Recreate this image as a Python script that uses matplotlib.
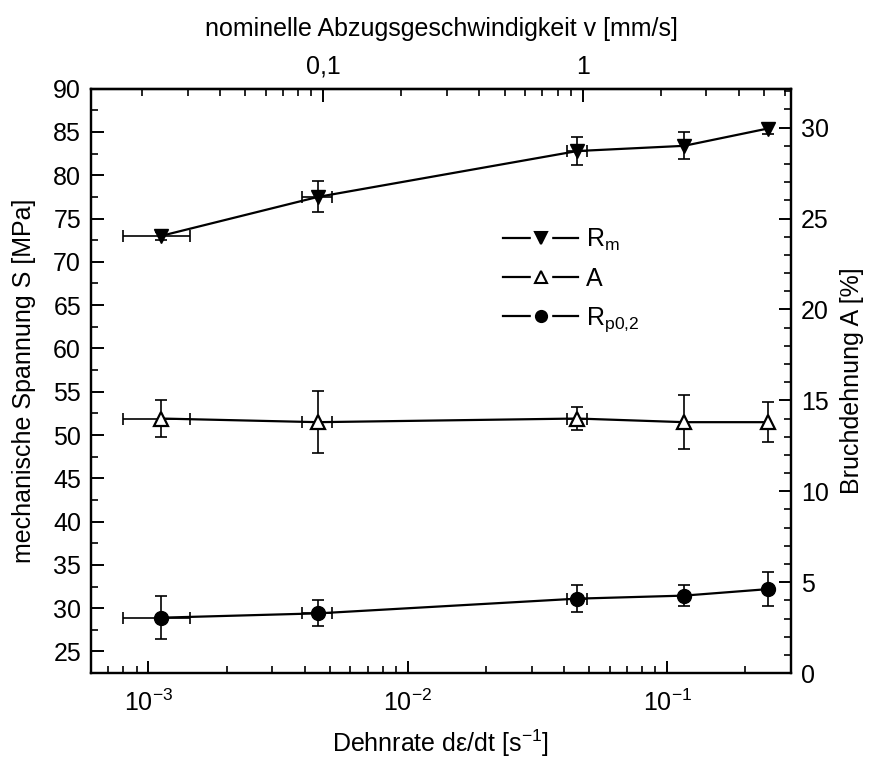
import math
import matplotlib
matplotlib.use('Agg')
import matplotlib.pyplot as plt
from matplotlib.lines import Line2D
from matplotlib.legend_handler import HandlerTuple
from matplotlib.ticker import LogLocator, FuncFormatter, MultipleLocator, NullFormatter, FixedLocator

plt.rcParams['font.family'] = ['Liberation Sans', 'DejaVu Sans']
plt.rcParams['mathtext.fontset'] = 'custom'
plt.rcParams['mathtext.rm'] = 'Liberation Sans'
plt.rcParams['mathtext.it'] = 'Liberation Sans:italic'

## data
rate = [1.12e-3, 4.5e-3, 4.5e-2, 0.116, 0.244]
rate_err = [3.2e-4, 6e-4, 4e-3, 0, 0]

rm = [73.0, 77.5, 82.8, 83.4, 85.4]
rm_err = [0.5, 1.8, 1.6, 1.55, 0.6]

a = [14.0, 13.8, 14.0, 13.8, 13.8]
a_err = [1.0, 1.7, 0.65, 1.5, 1.1]

rp = [28.9, 29.4, 31.1, 31.45, 32.2]
rp_err = [2.5, 1.5, 1.6, 1.2, 1.95]

top_ticks = [0.1, 1]
gauge_len = 21.2   # mm, v = rate * L

fig = plt.figure(figsize=(8.82, 7.58), dpi=100)
ax = fig.add_axes([0.103, 0.112, 0.794, 0.771])
ax2 = ax.twinx()

fs = 18
ebkw = dict(fmt='none', ecolor='black', elinewidth=1.2, capsize=4, capthick=1.2)

## R_m
ax.errorbar(rate, rm, yerr=rm_err, xerr=rate_err, **ebkw)
ax.plot(rate, rm, color='black', lw=1.6, marker='v', ms=10, mfc='black', mec='black')
## R_p0,2
ax.errorbar(rate, rp, yerr=rp_err, xerr=rate_err, **ebkw)
ax.plot(rate, rp, color='black', lw=1.6, marker='o', ms=10, mfc='black', mec='black')
## A
ax2.errorbar(rate, a, yerr=a_err, xerr=rate_err, **ebkw)
ax2.plot(rate, a, color='black', lw=1.6, marker='^', ms=10, mfc='white', mec='black', mew=1.6)

ax.set_xscale('log')
ax.set_xlim(6e-4, 0.3)
ax.set_ylim(22.5, 90)
ax2.set_ylim(0, 32.14)

ax.yaxis.set_major_locator(MultipleLocator(5))
ax.yaxis.set_minor_locator(MultipleLocator(2.5))
ax2.yaxis.set_major_locator(MultipleLocator(5))
ax2.yaxis.set_minor_locator(MultipleLocator(1))

def sci(x, pos):
    e = int(round(math.log10(x)))
    return '10$^{\\mathrm{-%d}}$' % (-e) if e < 0 else '10$^{%d}$' % e

ax.xaxis.set_major_locator(LogLocator(base=10))
ax.xaxis.set_major_formatter(FuncFormatter(sci))
ax.xaxis.set_minor_locator(LogLocator(base=10, subs=range(2, 10)))
ax.xaxis.set_minor_formatter(NullFormatter())

top = ax.secondary_xaxis('top', functions=(lambda x: x * gauge_len, lambda v: v / gauge_len))
top.xaxis.set_major_locator(FixedLocator(top_ticks))
top.xaxis.set_major_formatter(FuncFormatter(lambda v, p: ('%g' % v).replace('.', ',')))
top.xaxis.set_minor_locator(LogLocator(base=10, subs=range(2, 10)))
top.xaxis.set_minor_formatter(NullFormatter())

for axis in (ax, ax2, top):
    axis.tick_params(which='major', direction='in', length=9, width=1.4, labelsize=fs, pad=7)
    axis.tick_params(which='minor', direction='in', length=5, width=1.2)
ax.tick_params(axis='x', which='major', pad=12)
ax.tick_params(top=False, right=False, which='both')
ax2.tick_params(axis='x', top=False, bottom=False, which='both')

for sp in ax.spines.values():
    sp.set_linewidth(1.6)
for sp in ax2.spines.values():
    sp.set_linewidth(1.6)
top.spines['top'].set_linewidth(1.6)

ax.set_xlabel('Dehnrate d\u03b5/dt [s$^{\\mathrm{-1}}$]', fontsize=fs, labelpad=8)
ax.set_ylabel('mechanische Spannung S [MPa]', fontsize=fs, labelpad=12)
ax2.set_ylabel('Bruchdehnung A [%]', fontsize=fs, labelpad=8)
top.set_xlabel('nominelle Abzugsgeschwindigkeit v [mm/s]', fontsize=fs, labelpad=14)

## legend handles: line, white gap, marker
def handle(marker, fc):
    ln = Line2D([], [], color='black', lw=1.6)
    gap = Line2D([], [], ls='none', marker='s', ms=15, mfc='white', mec='white')
    mk = Line2D([], [], ls='none', marker=marker, ms=8, mfc=fc, mec='black', mew=1.5)
    return (ln, gap, mk)

ax2.legend(handles=[handle('v', 'black'), handle('^', 'white'), handle('o', 'black')],
           labels=['R$_{\\mathrm{m}}$', 'A', 'R$_{\\mathrm{p0{,}2}}$'],
           handler_map={tuple: HandlerTuple(ndivide=1, pad=0)},
           loc='upper left', bbox_to_anchor=(0.545, 0.73),
           bbox_transform=fig.transFigure, frameon=False, fontsize=fs,
           handlelength=3.0, labelspacing=0.55, handletextpad=0.3)

fig.savefig('out.png', dpi=100)
